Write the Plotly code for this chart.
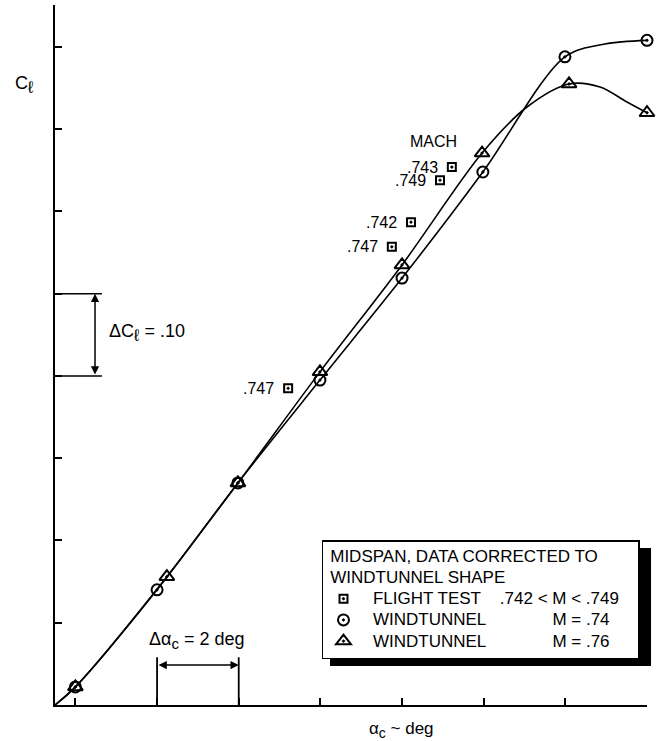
import plotly.graph_objects as go

# ---- data ----
# wind tunnel M = .74 (circles)
alpha_wt74 = [0.0, 2.0, 3.98, 5.99, 8.0, 9.98, 11.99, 14.0]
cl_wt74 = [0.022, 0.140, 0.270, 0.395, 0.519, 0.648, 0.788, 0.808]
# wind tunnel M = .76 (triangles)
alpha_wt76 = [0.0, 2.24, 3.98, 5.99, 8.0, 9.96, 12.09, 14.0]
cl_wt76 = [0.022, 0.156, 0.270, 0.405, 0.535, 0.671, 0.755, 0.720]
# flight test (squares) and their Mach labels
alpha_ft = [9.22, 8.93, 8.22, 7.75, 5.21]
cl_ft = [0.654, 0.638, 0.587, 0.557, 0.385]
mach_ft = [".743", ".749", ".742", ".747", ".747"]

# faired curves
fair_alpha_74 = [-0.5, 0.0, 2.0, 3.98, 5.99, 8.0, 9.98, 11.99, 12.97, 14.0]
fair_cl_74 = [0.0, 0.022, 0.140, 0.270, 0.395, 0.519, 0.648, 0.788, 0.8036, 0.808]
fair_alpha_76 = [-0.5, 0.0, 2.24, 3.98, 5.99, 8.0, 9.96, 11.06, 12.09, 12.85, 13.51, 14.0]
fair_cl_76 = [0.0, 0.022, 0.156, 0.270, 0.405, 0.535, 0.671, 0.727, 0.755, 0.7514, 0.7331, 0.720]

# axis ticks (unlabelled)
x_ticks = [0, 2, 4, 6, 8, 10, 12, 14]
y_ticks = [0.1, 0.2, 0.3, 0.4, 0.5, 0.6, 0.7, 0.8]

FONT = "Liberation Sans, Arial, Helvetica, sans-serif"
NB = "\u00a0"


def big(s):
    return "<span style='font-size:17px'>" + s + "</span>"


fig = go.Figure()

fig.add_trace(go.Scatter(x=fair_alpha_74, y=fair_cl_74, mode="lines",
                         line=dict(color="black", width=1.6, shape="spline", smoothing=0.9),
                         showlegend=False, hoverinfo="skip", cliponaxis=False))
fig.add_trace(go.Scatter(x=fair_alpha_76, y=fair_cl_76, mode="lines",
                         line=dict(color="black", width=1.6, shape="spline", smoothing=0.9),
                         showlegend=False, hoverinfo="skip", cliponaxis=False))

fig.add_trace(go.Scatter(
    x=alpha_ft, y=cl_ft, mode="markers",
    marker=dict(symbol="square-open-dot", size=8, color="black", line=dict(width=2, color="black")),
    name=big(NB * 2 + "FLIGHT TEST" + NB * 4 + ".742 <" + NB + "M < .749" + NB * 3), cliponaxis=False))
fig.add_trace(go.Scatter(
    x=alpha_wt74, y=cl_wt74, mode="markers",
    marker=dict(symbol="circle-open-dot", size=11, color="black", line=dict(width=2, color="black")),
    name=big(NB * 2 + "WINDTUNNEL" + NB * 14 + "M = .74"), cliponaxis=False))
fig.add_trace(go.Scatter(
    x=alpha_wt76, y=cl_wt76, mode="markers",
    marker=dict(symbol="triangle-up-open-dot", size=13, color="black", line=dict(width=2, color="black")),
    name=big(NB * 2 + "WINDTUNNEL" + NB * 14 + "M = .76"), cliponaxis=False))

annotations = []
for a, c, m in zip(alpha_ft, cl_ft, mach_ft):
    annotations.append(dict(x=a, y=c, text=m, showarrow=False, xanchor="right", yanchor="middle",
                            xshift=-12, font=dict(size=16, color="black", family=FONT)))
annotations.append(dict(x=8.76, y=0.6845, text="MACH", showarrow=False, xanchor="center",
                        yanchor="middle", font=dict(size=16, color="black", family=FONT)))

# delta Cl bracket arrow and label
annotations.append(dict(x=0.48, y=0.5, ax=0.48, ay=0.4, xref="x", yref="y", axref="x", ayref="y",
                        showarrow=True, arrowhead=2, arrowside="end+start", arrowsize=1.1,
                        arrowwidth=1.5, arrowcolor="black", text="", standoff=0, startstandoff=0))
annotations.append(dict(x=0.77, y=0.452, text="ΔC<sub><span style='font-size:17px'>ℓ</span></sub> = .10",
                        showarrow=False, xanchor="left", yanchor="middle",
                        font=dict(size=18, color="black", family=FONT)))
# delta alpha bracket arrow and label
annotations.append(dict(x=4.0, y=0.0486, ax=2.0, ay=0.0486, xref="x", yref="y", axref="x", ayref="y",
                        showarrow=True, arrowhead=2, arrowside="end+start", arrowsize=1.1,
                        arrowwidth=1.5, arrowcolor="black", text="", standoff=0, startstandoff=0))
annotations.append(dict(x=2.98, y=0.079, text="Δα<sub><span style='font-size:15px'>c</span></sub> = 2 deg",
                        showarrow=False, xanchor="center", yanchor="middle",
                        font=dict(size=18, color="black", family=FONT)))

# axis titles
annotations.append(dict(x=-0.052, y=0.886, xref="paper", yref="paper",
                        text="C<sub><span style='font-size:17px'>ℓ</span></sub>",
                        showarrow=False, xanchor="center", yanchor="middle",
                        font=dict(size=18, color="black", family=FONT)))
annotations.append(dict(x=0.586, y=-0.036, xref="paper", yref="paper",
                        text="α<sub><span style='font-size:14px'>c</span></sub> ~ deg",
                        showarrow=False, xanchor="center", yanchor="middle",
                        font=dict(size=17, color="black", family=FONT)))

shapes = [
    # delta Cl bracket lines
    dict(type="line", xref="x", yref="y", x0=-0.5, x1=0.65, y0=0.5, y1=0.5, line=dict(color="black", width=1.5)),
    dict(type="line", xref="x", yref="y", x0=-0.5, x1=0.65, y0=0.4, y1=0.4, line=dict(color="black", width=1.5)),
    # delta alpha bracket lines
    dict(type="line", xref="x", yref="y", x0=2.0, x1=2.0, y0=0.0, y1=0.058, line=dict(color="black", width=1.8)),
    dict(type="line", xref="x", yref="y", x0=4.0, x1=4.0, y0=0.0, y1=0.058, line=dict(color="black", width=1.8)),
    # legend drop shadow
    dict(type="rect", xref="paper", yref="paper", x0=0.4645, x1=1.0068, y0=0.0557, y1=0.2243,
         fillcolor="black", line=dict(width=0), layer="above"),
]

fig.update_layout(
    width=658, height=741,
    margin=dict(l=55, r=11, t=5, b=36),
    paper_bgcolor="white", plot_bgcolor="white",
    font=dict(family=FONT, size=16, color="black"),
    annotations=annotations, shapes=shapes,
    legend=dict(x=0.451, y=0.2357, xanchor="left", yanchor="top",
                bgcolor="white", bordercolor="black", borderwidth=1.5,
                font=dict(size=14, color="black", family=FONT),
                title=dict(text=big(NB + "MIDSPAN, DATA CORRECTED TO") + "<br>" + big(NB + "WINDTUNNEL SHAPE"),
                           font=dict(size=16, color="black", family=FONT)),
                itemwidth=30, tracegroupgap=0),
    xaxis=dict(range=[-0.5, 14], tickvals=x_ticks, showticklabels=False, ticks="inside",
               ticklen=7, tickwidth=1.5, tickcolor="black", showline=True, linecolor="black",
               linewidth=2, showgrid=False, zeroline=False),
    yaxis=dict(range=[0, 0.851], tickvals=y_ticks, showticklabels=False, ticks="inside",
               ticklen=7, tickwidth=1.5, tickcolor="black", showline=True, linecolor="black",
               linewidth=2, showgrid=False, zeroline=False),
)

fig.write_html("out.html", config={"displayModeBar": False},
               post_script="document.body.style.margin='0px';")
